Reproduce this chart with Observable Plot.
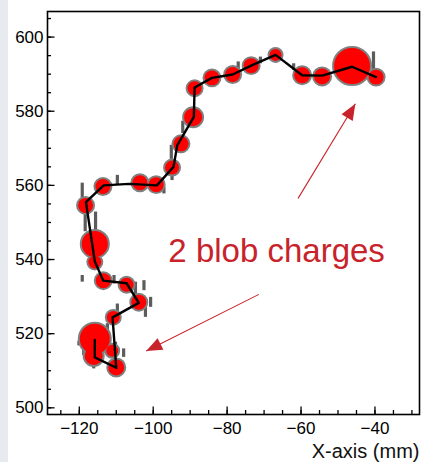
<!DOCTYPE html>
<html><head><meta charset="utf-8">
<script src="https://cdn.jsdelivr.net/npm/d3@7"></script>
<script src="https://cdn.jsdelivr.net/npm/@observablehq/plot@0.6"></script>
<style>
html,body{margin:0;padding:0;width:421px;height:462px;overflow:hidden;background:linear-gradient(to right,#e7eaef 0,#e7eaef 8px,#ffffff 8px);}
#chart{position:absolute;left:0;top:0}
</style></head><body><div id="chart"></div>
<script>
// Reconstructed charge clusters (red blobs): x, y (mm) and charge (a.u.)
const clusterX = [-39.7,-46.2,-54.3,-59.7,-66.9,-73.5,-78.5,-84.1,-88.8,-89.2,-92.5,-94.9,-99.2,-103.6,-113.6,-118.3,-115.8,-115.8,-113.5,-107.2,-103.9,-110.8,-115.8,-116.1,-111.1,-110.0];
const clusterY = [589.2,592.2,589.4,589.7,595.2,592.3,589.9,589.0,586.2,578.4,571.2,564.8,560.2,560.7,559.7,554.6,544.2,539.3,534.3,533.2,528.5,524.4,518.6,514.0,515.4,510.9];
const clusterQ = [56,324,64,64,36,56,56,56,49,81,56,49,56,56,56,56,169,42,56,49,56,42,225,81,36,64];

// Track path (black line)
const trackX = [-39.7,-46.2,-54.3,-59.7,-66.9,-73.5,-78.5,-84.1,-88.8,-89.0,-93.5,-94.5,-99.0,-106.5,-113.4,-118.2,-115.8,-113.5,-107.2,-103.9,-111.0,-110.0,-115.8,-115.8];
const trackY = [589.2,592.0,589.6,589.7,595.2,592.3,589.9,589.0,586.4,578.5,570.8,565.0,560.0,560.4,560.0,555.5,539.5,534.3,533.6,528.3,524.4,510.8,513.6,518.3];

// Individual hits (gray strips): x, y-range
const hitX  = [-40.4,-71.0,-77.0,-62.0,-92.0,-95.1,-94.9,-109.7,-119.2,-115.6,-118.4,-97.1,-119.2,-110.6,-104.8,-100.7,-102.5,-109.7,-112.4,-118.8,-116.1,-110.2,-108.0,-102.1,-120.1];
const hitY1 = [596.0,594.6,593.3,592.8,577.3,570.8,564.0,562.7,560.6,552.8,552.3,559.5,535.7,535.7,533.9,529.8,534.3,528.0,522.7,516.3,512.3,517.7,515.9,527.1,518.0];
const hitY2 = [591.0,592.8,590.5,591.0,574.0,567.0,561.3,560.2,553.2,546.0,547.5,557.7,533.9,533.4,527.1,527.1,531.6,525.3,520.0,514.1,510.5,514.1,513.6,524.4,516.7];

// Axis ticks
const xMajor = [-120,-100,-80,-60,-40];
const xMinor = d3.range(-125, -29, 5);
const yMajor = [500,520,540,560,580,600];
const yMinor = d3.range(500, 606, 5);

// Annotation
const labelText = "2 blob charges";
const labelPos = {x: -95.9, y: 539.3};
const arrowsData = [
  {x1: -60.8, y1: 556.5, x2: -45.3, y2: 582.0, angle: 31},
  {x1: -71.4, y1: 530.6, x2: -101.9, y2: 515.3, angle: 243.5}
];

const clusters = clusterX.map((x,i)=>({x, y: clusterY[i], q: clusterQ[i]}));
const track = trackX.map((x,i)=>({x, y: trackY[i]}));
const hits = hitX.map((x,i)=>({x, y1: hitY1[i], y2: hitY2[i]}));

const W = 421, H = 462, mL = 47, mR = 2, mT = 11, mB = 48;
const fW = W - mL - mR, fH = H - mT - mB;
const red = "#c8232b";

const arrowHead = {
  draw(ctx) { ctx.moveTo(0,0); ctx.lineTo(-6.5,16); ctx.lineTo(6.5,16); ctx.closePath(); }
};

const chart = Plot.plot({
  width: W, height: H,
  marginLeft: mL, marginRight: mR, marginTop: mT, marginBottom: mB,
  style: {background: "transparent", fontFamily: "'Liberation Sans', Arial, sans-serif", fontSize: "17px", color: "#000"},
  x: {domain: [-128.6, -27.95]},
  y: {domain: [498.2, 606.9]},
  r: {type: "sqrt", domain: [0, 400], range: [0, 20]},
  marks: [
    Plot.ruleX(hits, {x: "x", y1: "y1", y2: "y2", stroke: "#5c5c5c", strokeWidth: 3.2}),
    Plot.dot(clusters, {x: "x", y: "y", r: "q", fill: "#ff0000", stroke: "#808080", strokeWidth: 4}),
    Plot.dot(clusters, {x: "x", y: "y", r: "q", fill: "#ff0000"}),
    Plot.line(track, {x: "x", y: "y", stroke: "#000", strokeWidth: 2.4, curve: "linear"}),
    Plot.link(arrowsData, {x1: "x1", y1: "y1", x2: "x2", y2: "y2", stroke: red, strokeWidth: 1.1}),
    Plot.dot(arrowsData, {x: "x2", y: "y2", symbol: arrowHead, r: 5, fill: red, stroke: "none", rotate: "angle"}),
    Plot.text([labelText], {x: labelPos.x, y: labelPos.y, text: d => d, fill: red, fontSize: 33, textAnchor: "start", lineAnchor: "bottom"}),
    Plot.frame({stroke: "#000", strokeWidth: 1.6}),
    Plot.ruleX(xMajor, {x: d => d, insetTop: fH - 7.5, stroke: "#000", strokeWidth: 1.3}),
    Plot.ruleX(xMinor, {x: d => d, insetTop: fH - 4, stroke: "#000", strokeWidth: 1.3}),
    Plot.ruleY(yMajor, {y: d => d, insetRight: fW - 7.5, stroke: "#000", strokeWidth: 1.3}),
    Plot.ruleY(yMinor, {y: d => d, insetRight: fW - 4, stroke: "#000", strokeWidth: 1.3}),
    Plot.axisX({ticks: xMajor, tickSize: 0, tickPadding: 7, label: null, fontSize: 17, fill: "#000"}),
    Plot.axisY({ticks: yMajor, tickSize: 0, tickPadding: 4, label: null, fontSize: 17, fill: "#000"}),
    Plot.text(["X-axis (mm)"], {frameAnchor: "bottom-right", text: d => d, dy: 43, textAnchor: "end", lineAnchor: "bottom", fontSize: 20, fill: "#111"})
  ]
});
document.getElementById("chart").appendChild(chart);
</script>
</body></html>
